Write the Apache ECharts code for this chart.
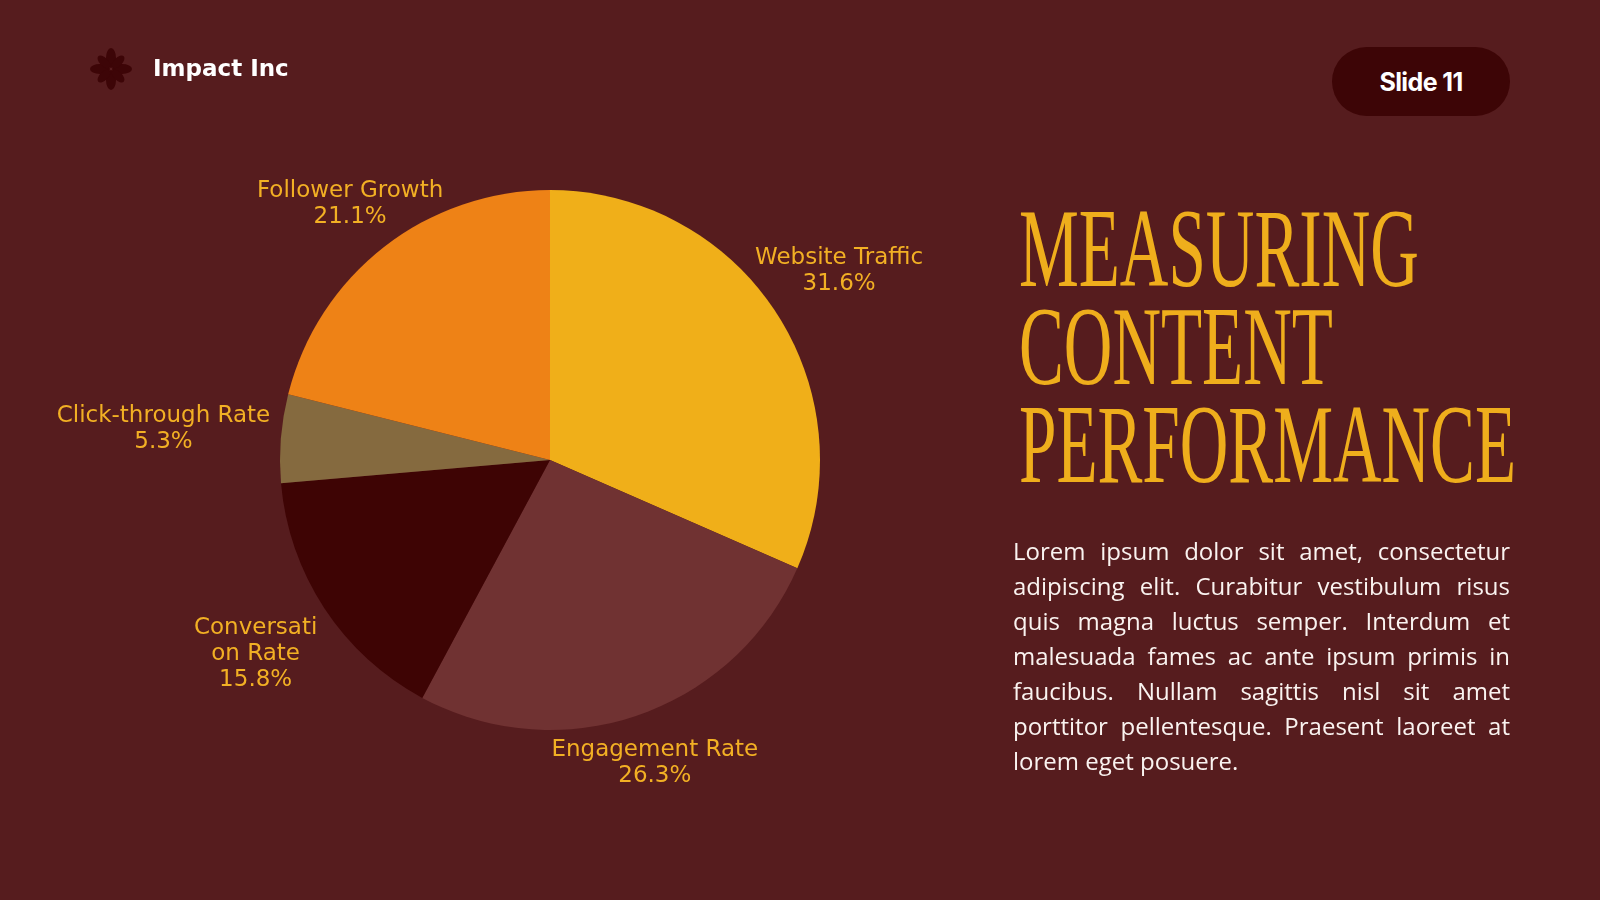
<!DOCTYPE html>
<html>
<head>
<meta charset="utf-8">
<script src="https://cdn.jsdelivr.net/npm/echarts@6/dist/echarts.min.js"></script>
<style>
  html, body { margin: 0; padding: 0; width: 1600px; height: 900px; overflow: hidden; background: #561C1E; }
  #chart { position: absolute; left: 0; top: 0; width: 1600px; height: 900px; }
  .brand { position: absolute; left: 153px; top: 55px; font-family: "DejaVu Sans", sans-serif; font-weight: 700; font-size: 23px; color: #FFFFFF; line-height: 26px; }
  .logo { position: absolute; left: 89px; top: 47px; width: 44px; height: 44px; }
  .badge { position: absolute; left: 1332px; top: 47px; width: 178px; height: 69px; border-radius: 35px; background: #3D0506; color: #FFFFFF; font-family: Inter, sans-serif; font-weight: 700; font-size: 25px; letter-spacing: -0.6px; display: flex; align-items: center; justify-content: center; }
  .title { position: absolute; left: 1019px; top: 199px; font-family: "Liberation Serif", serif; font-size: 112px; line-height: 98px; color: #EFAE1C; transform-origin: 0 0; white-space: nowrap; }
  .title div { height: 98px; }
  .body { position: absolute; left: 1013px; top: 533px; width: 497px; font-family: "Open Sans", sans-serif; font-size: 24px; line-height: 35px; color: #FAF3F0; }
  .body div { text-align: justify; text-align-last: justify; white-space: nowrap; }
  .body div.last { text-align-last: left; }
</style>
</head>
<body>
<div id="chart"></div>

<svg class="logo" viewBox="-22 -22 44 44">
  <g fill="#3D0507">
    <ellipse cx="0" cy="-11" rx="5" ry="10" transform="rotate(0)"/>
    <ellipse cx="0" cy="-11" rx="5" ry="10" transform="rotate(90)"/>
    <ellipse cx="0" cy="-11" rx="5" ry="10" transform="rotate(180)"/>
    <ellipse cx="0" cy="-11" rx="5" ry="10" transform="rotate(270)"/>
    <ellipse cx="0" cy="-10" rx="4.2" ry="8" transform="rotate(45)"/>
    <ellipse cx="0" cy="-10" rx="4.2" ry="8" transform="rotate(135)"/>
    <ellipse cx="0" cy="-10" rx="4.2" ry="8" transform="rotate(225)"/>
    <ellipse cx="0" cy="-10" rx="4.2" ry="8" transform="rotate(315)"/>
  </g>
</svg>
<div class="brand">Impact Inc</div>
<div class="badge">Slide 11</div>

<div class="title" id="title">
  <div>MEASURING</div>
  <div>CONTENT</div>
  <div id="widest">PERFORMANCE</div>
</div>

<div class="body">
  <div>Lorem ipsum dolor sit amet, consectetur</div>
  <div>adipiscing elit. Curabitur vestibulum risus</div>
  <div>quis magna luctus semper. Interdum et</div>
  <div>malesuada fames ac ante ipsum primis in</div>
  <div>faucibus. Nullam sagittis nisl sit amet</div>
  <div>porttitor pellentesque. Praesent laoreet at</div>
  <div class="last">lorem eget posuere.</div>
</div>

<script>
// ---- data ----
const categories = ['Website Traffic', 'Engagement Rate', 'Conversation Rate', 'Click-through Rate', 'Follower Growth'];
const shares = [31.6, 26.3, 15.8, 5.3, 21.1];   // percent of total
const sliceColors = ['#F0AF19', '#703232', '#3E0404', '#856A3F', '#EE8216'];

// ---- title width fit ----
(function () {
  const t = document.getElementById('title');
  const w = document.getElementById('widest');
  const r = document.createRange();
  r.selectNodeContents(w);
  const width = r.getBoundingClientRect().width;
  t.style.transform = 'scaleX(' + (497 / width) + ')';
})();

// ---- label styling / layout helpers ----
const LABEL_COLOR = '#F2B024';
const LABEL_FONT_FAMILY = '"DejaVu Sans"';
const LABEL_SIZE = 23;
const LINE_H = 26;
const CAP = 0.73 * LABEL_SIZE;
const INK_GAP = 12;
const WRAP = { 'Conversation Rate': 128 };

const mctx = document.createElement('canvas').getContext('2d');
mctx.font = LABEL_SIZE + 'px ' + LABEL_FONT_FAMILY;
function tw(s) { return mctx.measureText(s).width; }
function wrapAll(s, maxW) {
  if (!maxW) return [s];
  const out = []; let cur = '';
  for (const ch of s) {
    if (cur && tw(cur + ch) > maxW) { out.push(cur); cur = ch; } else { cur += ch; }
  }
  out.push(cur);
  return out;
}
function labelLines(i) {
  const lines = wrapAll(categories[i], WRAP[categories[i]]).map(function (t) { return { w: tw(t), h: LINE_H }; });
  lines.push({ w: tw(shares[i].toFixed(1) + '%'), h: LINE_H });
  return lines;
}
function rectDist(x0, y0, x1, y1) {
  const ddx = Math.max(x0, 0, -x1);
  const ddy = Math.max(y0, 0, -y1);
  return Math.hypot(ddx, ddy);
}
function inkDist(lines, ux, uy, d) {
  const lx = ux * d, ly = uy * d;
  const H = lines.reduce(function (s, l) { return s + l.h; }, 0);
  let acc = ly - H / 2, best = Infinity;
  lines.forEach(function (l) {
    const yc = acc + l.h / 2;
    best = Math.min(best, rectDist(lx - l.w / 2, yc - CAP / 2, lx + l.w / 2, yc + CAP / 2));
    acc += l.h;
  });
  return best;
}

const chart = echarts.init(document.getElementById('chart'), null, { renderer: 'canvas' });

const pieData = categories.map(function (name, i) {
  const item = { name: name, value: shares[i], itemStyle: { color: sliceColors[i] } };
  if (WRAP[name]) {
    item.label = { width: WRAP[name], overflow: 'breakAll' };
  }
  return item;
});

chart.setOption({
  backgroundColor: 'transparent',
  animation: false,
  series: [{
    type: 'pie',
    center: [550, 460],
    radius: 270,
    startAngle: 90,
    clockwise: true,
    avoidLabelOverlap: false,
    data: pieData,
    itemStyle: { borderWidth: 0 },
    label: {
      show: true,
      position: 'outside',
      color: LABEL_COLOR,
      fontFamily: LABEL_FONT_FAMILY,
      fontSize: LABEL_SIZE,
      lineHeight: LINE_H,
      formatter: function (p) { return p.name + '\n' + p.value.toFixed(1) + '%'; }
    },
    labelLine: { show: false },
    labelLayout: function (p) {
      const data = chart.getModel().getSeriesByIndex(0).getData();
      const l = data.getItemLayout(p.dataIndex);
      const mid = (l.startAngle + l.endAngle) / 2;
      const ux = Math.cos(mid), uy = Math.sin(mid);
      const lines = labelLines(p.dataIndex);
      const target = l.r + INK_GAP;
      let lo = 0, hi = 1000;
      for (let k = 0; k < 50; k++) {
        const m = (lo + hi) / 2;
        if (inkDist(lines, ux, uy, m) < target) lo = m; else hi = m;
      }
      const d = (lo + hi) / 2;
      return { x: l.cx + ux * d, y: l.cy + uy * d, align: 'center', verticalAlign: 'middle' };
    }
  }]
});
</script>
</body>
</html>
